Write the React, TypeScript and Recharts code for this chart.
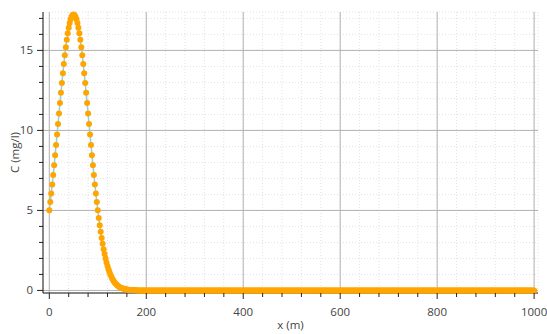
import { LineChart, Line, XAxis, YAxis, CartesianGrid, ReferenceLine, ReferenceArea } from "recharts";

// sampling step along x (m)
const X_STEP = 2;

// C (mg/l), x = 0, 2, 4, ... 1000
const concentration = [
  5.01, 5.52, 6.06, 6.62, 7.21, 7.82, 8.45, 9.09, 9.74, 10.4, 11.05, 11.71, 12.35, 12.97, 13.58, 14.15, 14.7, 15.2, 15.66, 16.07, 16.42, 16.71, 16.95, 17.11, 17.22,
  17.25,
  17.22, 17.11, 16.95, 16.71, 16.42, 16.07, 15.66, 15.2, 14.7, 14.15, 13.58, 12.97, 12.35, 11.71, 11.05, 10.4, 9.74, 9.09, 8.45, 7.82, 7.21, 6.62, 6.06, 5.52, 5.01,
  4.53, 4.08, 3.66, 3.27, 2.91, 2.58, 2.28, 2.0, 1.75, 1.53, 1.33, 1.15, 0.99, 0.85, 0.73, 0.62, 0.53, 0.45, 0.38, 0.32,
  0.27, 0.23, 0.19, 0.16, 0.14, 0.12, 0.1, 0.08, 0.07, 0.06, 0.05, 0.04, 0.03, 0.03, 0.02, 0.02, 0.01, 0.01, 0.01, 0.01,
  0,0,0,0,0,0,0,0,0,0,0,0,0,0,0,0,0,0,0,0,0,0,0,0,0,0,0,0,0,0,0,0,0,0,0,0,0,0,0,0,0,0,0,0,0,0,0,0,0,0,
  0,0,0,0,0,0,0,0,0,0,0,0,0,0,0,0,0,0,0,0,0,0,0,0,0,0,0,0,0,0,0,0,0,0,0,0,0,0,0,0,0,0,0,0,0,0,0,0,0,0,
  0,0,0,0,0,0,0,0,0,0,0,0,0,0,0,0,0,0,0,0,0,0,0,0,0,0,0,0,0,0,0,0,0,0,0,0,0,0,0,0,0,0,0,0,0,0,0,0,0,0,
  0,0,0,0,0,0,0,0,0,0,0,0,0,0,0,0,0,0,0,0,0,0,0,0,0,0,0,0,0,0,0,0,0,0,0,0,0,0,0,0,0,0,0,0,0,0,0,0,0,0,
  0,0,0,0,0,0,0,0,0,0,0,0,0,0,0,0,0,0,0,0,0,0,0,0,0,0,0,0,0,0,0,0,0,0,0,0,0,0,0,0,0,0,0,0,0,0,0,0,0,0,
  0,0,0,0,0,0,0,0,0,0,0,0,0,0,0,0,0,0,0,0,0,0,0,0,0,0,0,0,0,0,0,0,0,0,0,0,0,0,0,0,0,0,0,0,0,0,0,0,0,0,
  0,0,0,0,0,0,0,0,0,0,0,0,0,0,0,0,0,0,0,0,0,0,0,0,0,0,0,0,0,0,0,0,0,0,0,0,0,0,0,0,0,0,0,0,0,0,0,0,0,0,
  0,0,0,0,0,0,0,0,0,0,0,0,0,0,0,0,0,0,0,0,0,0,0,0,0,0,0,0,0,0,0,0,0,0,0,0,0,0,0,0,0,0,0,0,0,0,0,0,0,0,
  0,0,0,0,0,0,0,0,0,0,
];

const xMajorTicks = [0, 200, 400, 600, 800, 1000];
const xMinorTicks = [0, 40, 80, 120, 160, 200, 240, 280, 320, 360, 400, 440, 480, 520, 560, 600, 640, 680, 720, 760, 800, 840, 880, 920, 960, 1000];
const yMajorTicks = [0, 5, 10, 15];
const yMinorTicks = [0, 1, 2, 3, 4, 5, 6, 7, 8, 9, 10, 11, 12, 13, 14, 15, 16, 17];

const data = concentration.map((c, i) => ({ x: i * X_STEP, c }));

const FONT = "'Open Sans', sans-serif";
const TEXT = "#444";

function XTick(props: any) {
  const { x, y, payload } = props;
  const major = xMajorTicks.includes(payload.value);
  return (
    <g>
      <line x1={x} x2={x} y1={y} y2={y + (major ? 6 : 4)} stroke="#222" />
      {major && (
        <text x={x} y={y + 23} textAnchor="middle" fill={TEXT} fontSize={11.5} fontFamily={FONT}>
          {payload.value}
        </text>
      )}
    </g>
  );
}

function YTick(props: any) {
  const { x, y, payload } = props;
  const major = yMajorTicks.includes(payload.value);
  return (
    <g>
      <line x1={x} x2={x - (major ? 6 : 4)} y1={y} y2={y} stroke="#222" />
      {major && (
        <text x={x - 10} y={y + 4} textAnchor="end" fill={TEXT} fontSize={11.5} fontFamily={FONT}>
          {payload.value}
        </text>
      )}
    </g>
  );
}

export default function App() {
  return (
    <div style={{ position: "fixed", left: 0, top: 0, background: "#fff" }}>
      <LineChart width={547} height={334} data={data} margin={{ top: 12, right: 9, bottom: 0, left: 0 }}>
        <CartesianGrid stroke="#e2e2e2" strokeDasharray="1 2" />
        {xMajorTicks.map((v) => (
          <ReferenceLine key={`vx${v}`} x={v} stroke="#b2b2b2" />
        ))}
        {yMajorTicks.map((v) => (
          <ReferenceLine key={`hy${v}`} y={v} stroke="#b2b2b2" />
        ))}
        <XAxis
          dataKey="x"
          type="number"
          domain={[-13, 1008]}
          ticks={xMinorTicks}
          interval={0}
          tickSize={0}
          tickMargin={0}
          tick={<XTick />}
          height={41}
          axisLine={{ stroke: "#111" }}
          label={{ value: "x (m)", position: "insideBottom", offset: 5, fill: TEXT, fontSize: 11.5, fontFamily: FONT }}
        />
        <YAxis
          type="number"
          domain={[-0.16, 17.4]}
          ticks={yMinorTicks}
          interval={0}
          tickSize={0}
          tickMargin={0}
          tick={<YTick />}
          width={43}
          axisLine={{ stroke: "#111" }}
          label={{ value: "C (mg/l)", angle: -90, position: "insideLeft", offset: 15, fill: TEXT, fontSize: 11.5, fontFamily: FONT, style: { textAnchor: "middle" } }}
        />
        <ReferenceArea fill="none" stroke="#111" strokeWidth={1} />
        <Line
          dataKey="c"
          stroke="#8fd0e2"
          strokeWidth={1.5}
          dot={{ r: 3, fill: "#ffa500", stroke: "none" }}
          activeDot={false}
          isAnimationActive={false}
        />
      </LineChart>
    </div>
  );
}
